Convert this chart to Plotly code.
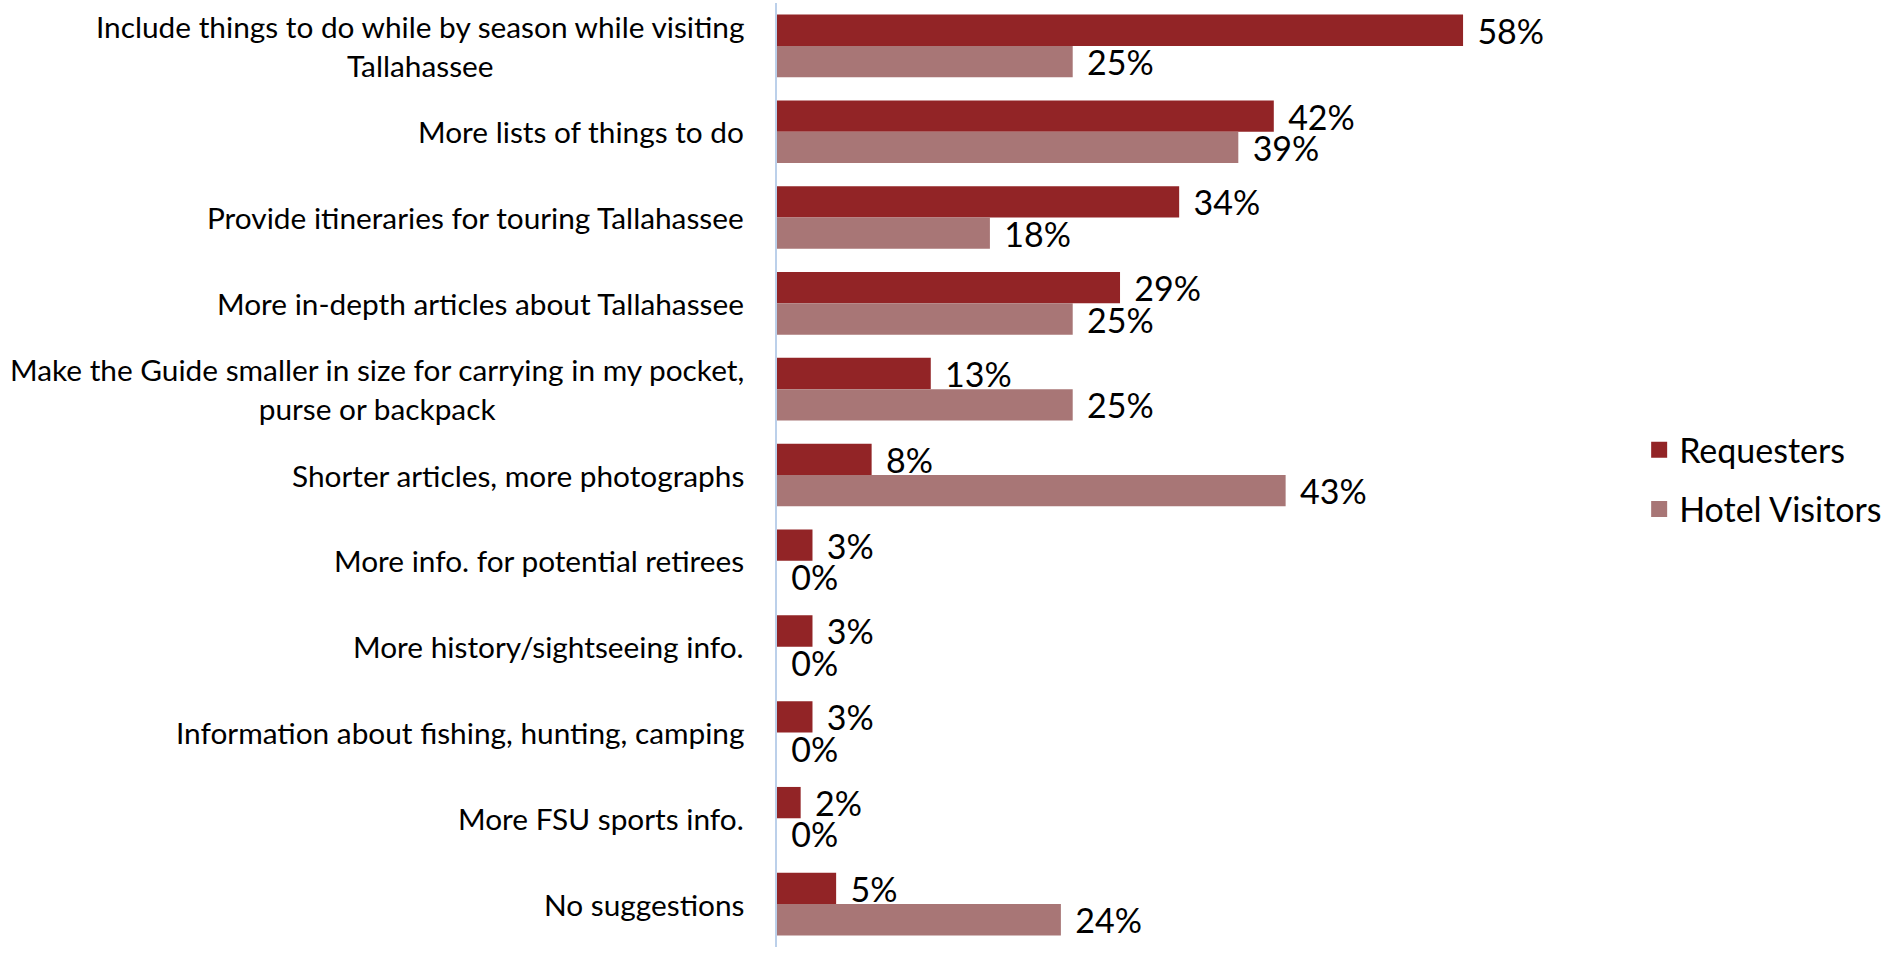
import plotly.graph_objects as go

# Survey: suggestions for improving the visitor guide
categories = [
    "Include things to do while by season while visiting<br>Tallahassee",
    "More lists of things to do",
    "Provide itineraries for touring Tallahassee",
    "More in-depth articles about Tallahassee",
    "Make the Guide smaller in size for carrying in my pocket,<br>purse or backpack",
    "Shorter articles, more photographs",
    "More info. for potential retirees",
    "More history/sightseeing info.",
    "Information about fishing, hunting, camping",
    "More FSU sports info.",
    "No suggestions",
]
requesters = [58, 42, 34, 29, 13, 8, 3, 3, 3, 2, 5]
hotel_visitors = [25, 39, 18, 25, 25, 43, 0, 0, 0, 0, 24]
series_names = ["Requesters", "Hotel Visitors"]

FONT = "Lato"
RED = "#922426"
ROSE = "#a87676"

fig = go.Figure()
for name, vals, col in [(series_names[0], requesters, RED), (series_names[1], hotel_visitors, ROSE)]:
    fig.add_trace(go.Bar(
        y=categories, x=vals, orientation="h", name=name,
        marker=dict(color=col, line=dict(width=0)),
        texttemplate="\u2004%{x}%", textposition="outside",
        textfont=dict(family=FONT, size=34, color="#000000"),
        constraintext="none", cliponaxis=False, showlegend=False,
    ))
    # square legend swatch
    fig.add_trace(go.Scatter(
        x=[None], y=[None], mode="markers", name=name, legendgroup=name,
        marker=dict(symbol="square", size=16, color=col),
    ))

# category labels, centered line-by-line, right-aligned to the axis
for cat in categories:
    fig.add_annotation(
        x=0, xref="paper", y=cat, yref="y", text=cat, showarrow=False,
        xanchor="right", yanchor="middle", align="center", xshift=-31,
        font=dict(family=FONT, size=29.8, color="#000000"),
    )

fig.update_layout(
    width=1889, height=957,
    margin=dict(l=777, r=283, t=3, b=10),
    paper_bgcolor="white", plot_bgcolor="white",
    barmode="group", bargap=0.27, bargroupgap=0,
    font=dict(family=FONT, size=30, color="#000000"),
    legend=dict(x=1.04, xanchor="left", y=0.495, yanchor="middle",
                font=dict(family=FONT, size=34), tracegroupgap=12,
                traceorder="grouped", itemwidth=30),
    xaxis=dict(range=[0, 70], showgrid=False, zeroline=False, showline=False,
               showticklabels=False, ticks=""),
    yaxis=dict(autorange="reversed", showgrid=False, showticklabels=False,
               showline=True, linecolor="#bcd0ea", linewidth=2, ticks=""),
)

fig.write_html("out.html")
